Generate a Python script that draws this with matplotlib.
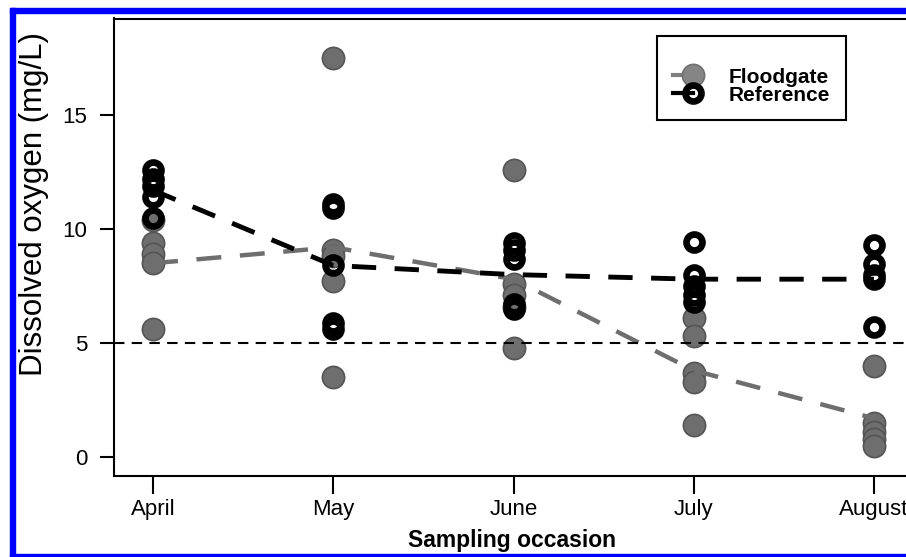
import matplotlib
matplotlib.use('Agg')
from matplotlib import pyplot as plt
from matplotlib.lines import Line2D
from matplotlib.patches import Rectangle
from matplotlib.legend_handler import HandlerLine2D

plt.rcParams['font.family'] = ['Liberation Sans', 'DejaVu Sans']

months = ['April', 'May', 'June', 'July', 'August']

# dissolved oxygen readings (mg/L), one list per sampling occasion
floodgate = [
    [10.4, 9.4, 8.9, 8.5, 5.6],
    [17.5, 9.1, 8.8, 7.7, 3.5],
    [12.6, 7.6, 7.1, 6.6, 4.8],
    [6.1, 5.3, 3.7, 3.3, 1.4],
    [4.0, 1.5, 1.1, 0.8, 0.5],
]
reference = [
    [12.6, 12.2, 11.9, 11.4, 10.5],
    [11.1, 10.9, 8.4, 5.9, 5.6],
    [9.4, 9.1, 8.7, 6.7, 6.5],
    [9.45, 8.0, 7.5, 7.1, 6.8],
    [9.3, 8.45, 8.0, 7.8, 5.7],
]
floodgate_mean = [8.5, 9.2, 7.8, 3.8, 1.7]
reference_mean = [11.7, 8.4, 8.0, 7.8, 7.8]
threshold = 5

gray = '#6e6e6e'


class HalfLineHandler(HandlerLine2D):
    # line runs from the left edge to the marker only
    def create_artists(self, legend, orig_handle, xdescent, ydescent,
                       width, height, fontsize, trans):
        y = height / 2 - ydescent
        x0 = -xdescent
        xm = x0 + width / 2
        line = Line2D([x0, xm], [y, y])
        self.update_prop(line, orig_handle, legend)
        line.set_marker('None')
        line.set_linestyle('-')
        mark = Line2D([xm], [y])
        self.update_prop(mark, orig_handle, legend)
        mark.set_linestyle('None')
        line.set_transform(trans)
        mark.set_transform(trans)
        return [line, mark]


fig = plt.figure(figsize=(9.06, 5.57), dpi=100)
ax = fig.add_axes([114 / 906, 81 / 557, 799 / 906, 457.5 / 557])

xs = range(1, len(months) + 1)
for x, vals in zip(xs, floodgate):
    ax.plot([x] * len(vals), vals, 'o', ms=16, mfc=gray, mec='#555555',
            mew=1.2, zorder=2)
for x, vals in zip(xs, reference):
    ax.plot([x] * len(vals), vals, 'o', ms=11.5, mfc='none', mec='black',
            mew=4.8, zorder=3)

ax.plot(xs, floodgate_mean, color=gray, lw=3.2, dashes=(5.6, 4.2), zorder=4)
ax.plot(xs, reference_mean, color='black', lw=3.5, dashes=(5.0, 3.8), zorder=4)
ax.axhline(threshold, color='black', lw=1.5, dashes=(5, 3.5), zorder=5)

ax.set_xlim(0.783, 5.217)
ax.set_ylim(-0.83, 19.23)
ax.set_xticks(list(xs))
ax.set_xticklabels(months)
ax.set_yticks([0, 5, 10, 15])

for s in ax.spines.values():
    s.set_linewidth(1.5)
ax.tick_params(axis='both', width=1.5, labelsize=16, colors='black')
ax.tick_params(axis='x', length=13, pad=3.5)
ax.tick_params(axis='y', length=10, pad=9)

ax.set_xlabel('Sampling occasion', fontsize=16.5, fontweight='bold')
ax.xaxis.set_label_coords(0.498, -0.155)
ax.xaxis.label.set_va('baseline')
ax.set_ylabel('Dissolved oxygen (mg/L)', fontsize=22.5)
ax.yaxis.set_label_coords(-0.081, 0.595)

h1 = Line2D([], [], color='#808080', marker='o', ms=16, mfc='#858585',
            mec='#707070', mew=1.2, lw=3)
h2 = Line2D([], [], color='black', marker='o', ms=11.5, mfc='none',
            mec='black', mew=4.8, lw=3)
leg = ax.legend([h1, h2], ['Floodgate', 'Reference'],
                loc='upper left', bbox_to_anchor=(0.6796, 0.9617),
                borderaxespad=0, fancybox=False, edgecolor='black',
                framealpha=1, prop={'size': 15, 'weight': 'bold'},
                handlelength=2.0, handletextpad=0.7, labelspacing=-0.05,
                borderpad=0.75, title=' ', title_fontsize=14,
                handler_map={Line2D: HalfLineHandler()})
leg.get_frame().set_linewidth(1.5)

# blue frame around the picture
blue = '#0000ff'
fig.add_artist(Rectangle((10 / 906, 0), 5 / 906, 549 / 557, color=blue,
                         transform=fig.transFigure))
fig.add_artist(Rectangle((10 / 906, 544 / 557), 896 / 906, 5 / 557,
                         color=blue, transform=fig.transFigure))
fig.add_artist(Rectangle((10 / 906, 0), 896 / 906, 3.5 / 557, color=blue,
                         transform=fig.transFigure))

fig.savefig('out.png', dpi=100)
